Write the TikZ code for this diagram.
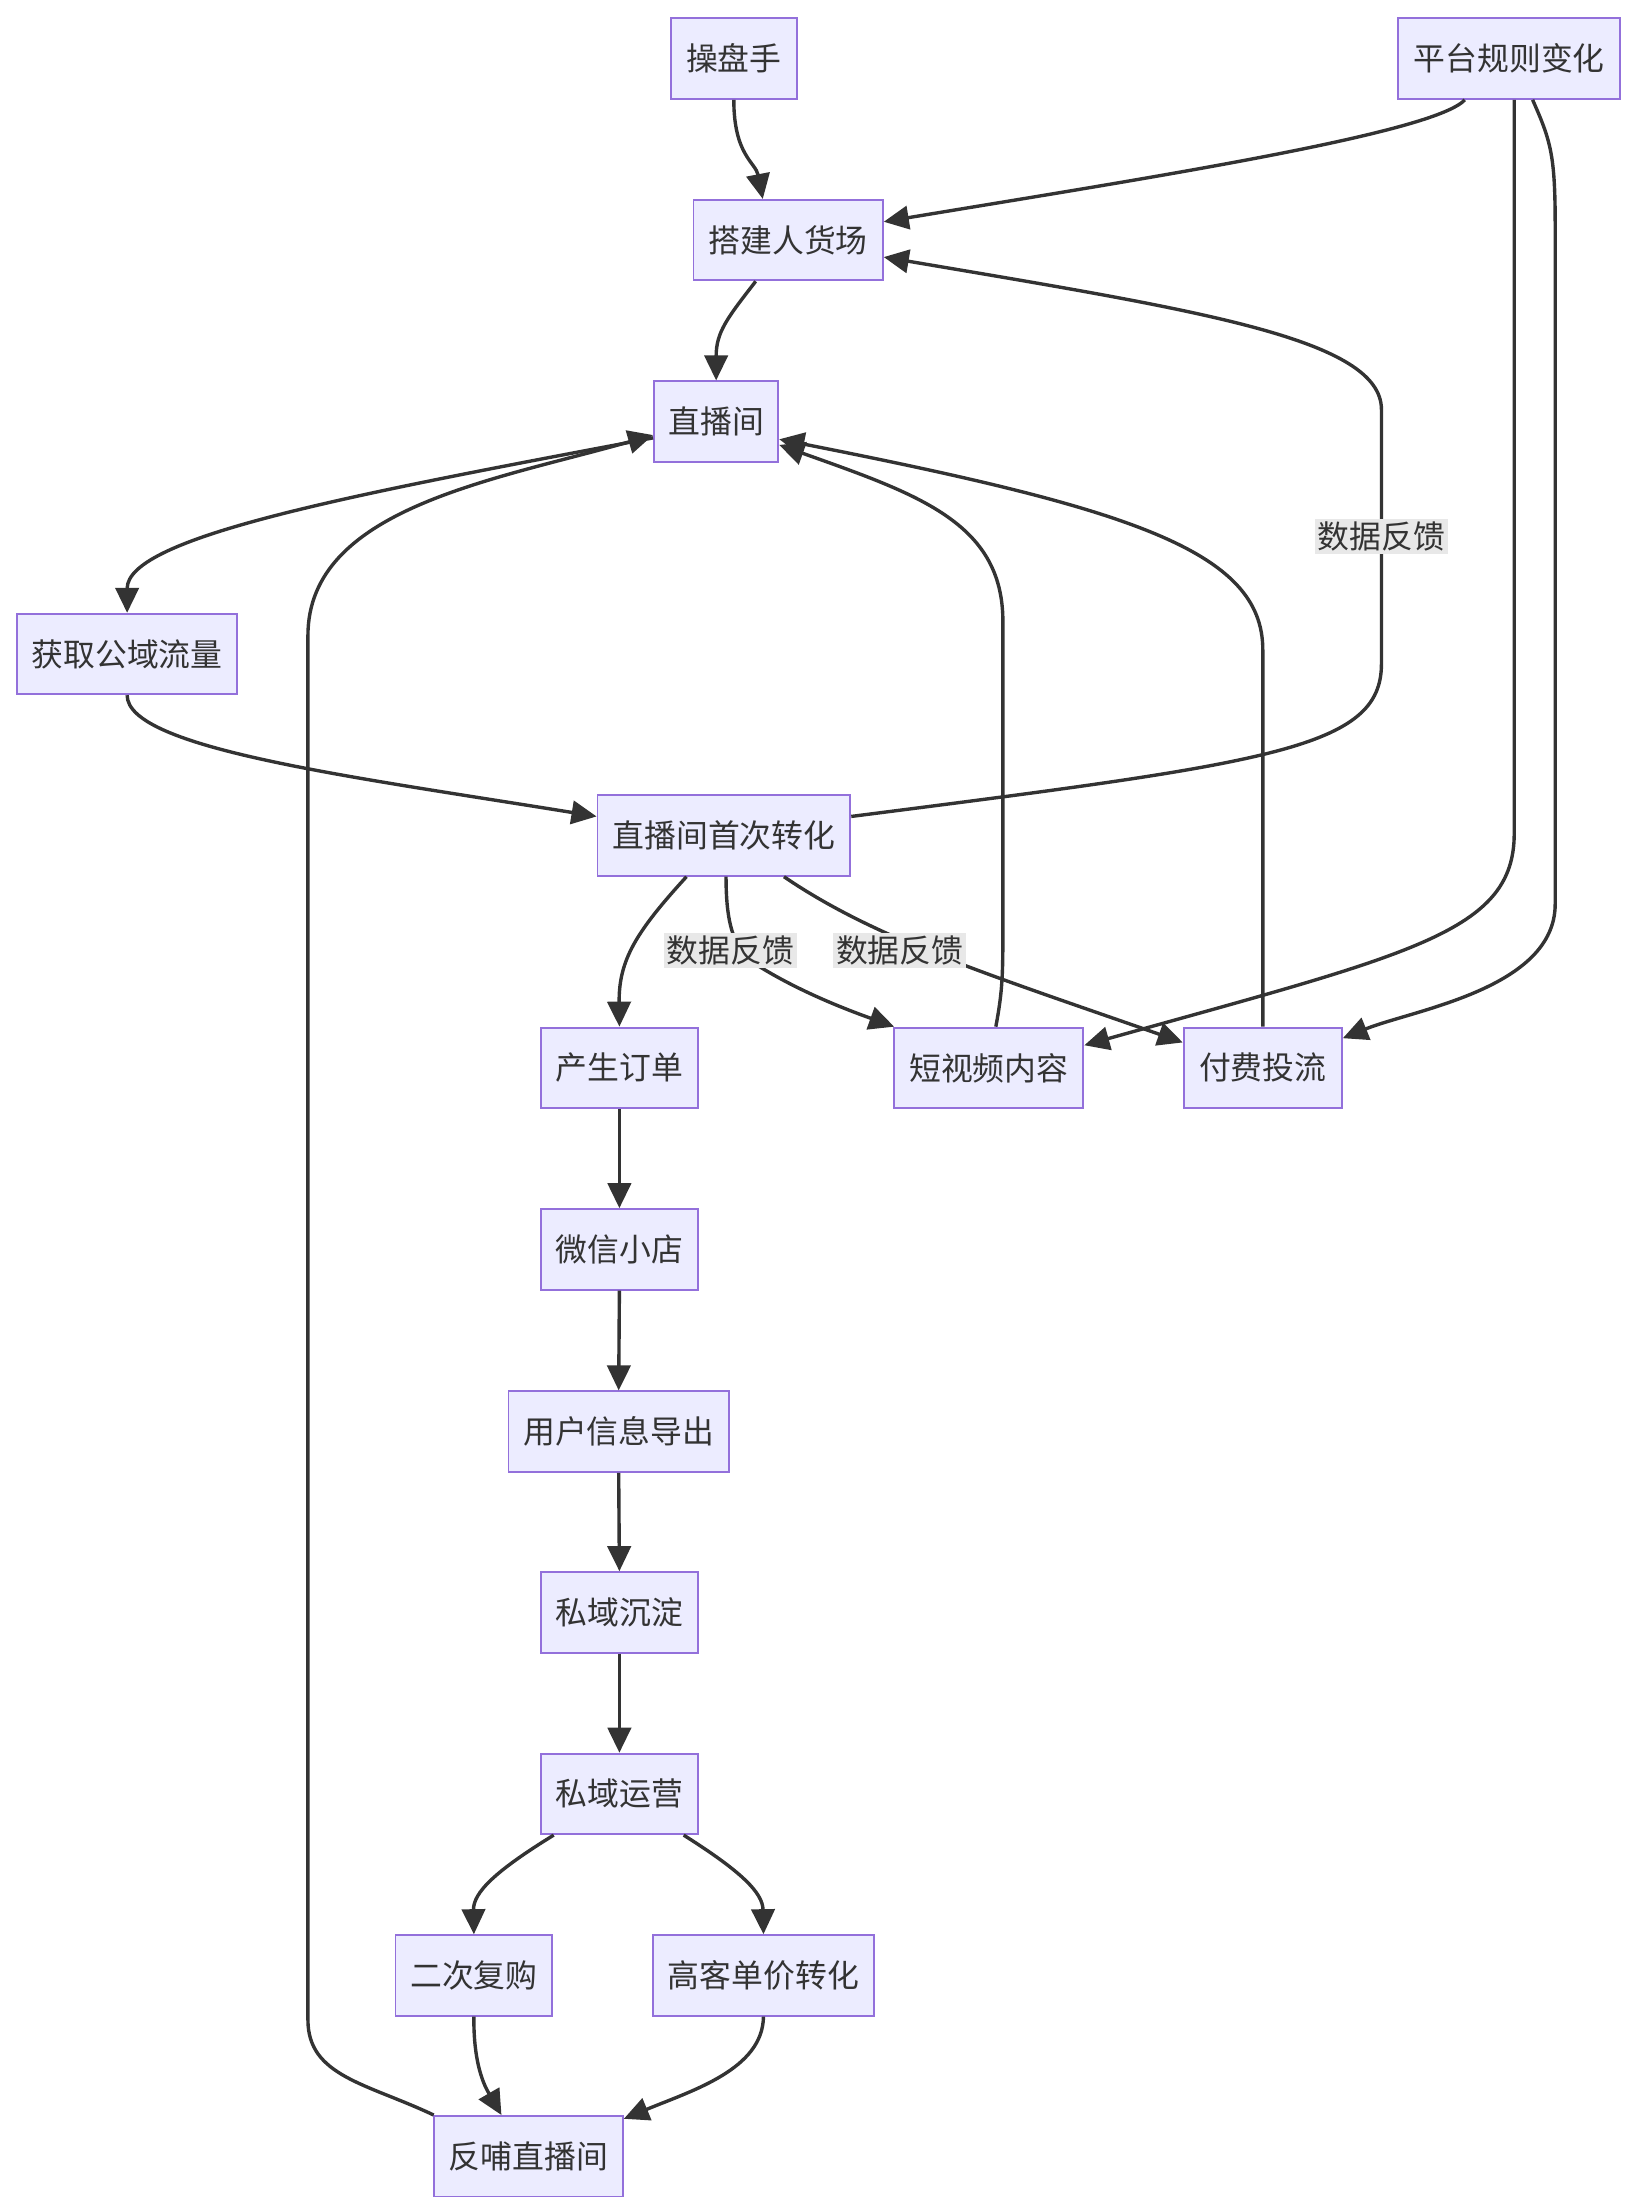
\documentclass[tikz,border=0pt]{standalone}
\usepackage{fontspec}
\setmainfont{Noto Sans CJK SC}
\usetikzlibrary{arrows.meta,calc}
\definecolor{boxfill}{HTML}{ECECFF}
\definecolor{boxline}{HTML}{9370DB}
\definecolor{edge}{HTML}{333333}
\definecolor{lblbg}{HTML}{E8E8E8}
\tikzset{
  box/.style={draw=boxline,fill=boxfill,line width=1pt,minimum height=42.75pt,inner sep=0pt,text=edge,font=\fontsize{16.9}{20}\selectfont},
  flow/.style={draw=edge,line width=1.8pt,-{Triangle[length=13.3pt,width=12.4pt]}},
  lbl/.style={fill=lblbg,inner sep=1.5pt,text=edge,font=\fontsize{16.9}{20}\selectfont}
}
\begin{document}
\begin{tikzpicture}[x=0.75pt,y=-0.75pt]
\useasboundingbox (0,0) rectangle (1158.2,1566);
% nodes
\node[box,minimum width=66.75pt] (czs) at (519.5,41.5) {操盘手};
\node[box,minimum width=117.75pt] (pt) at (1068.5,41.5) {平台规则变化};
\node[box,minimum width=100.5pt] (dj) at (558,170) {搭建人货场};
\node[box,minimum width=66pt] (zb) at (507,298.5) {直播间};
\node[box,minimum width=117pt] (hq) at (90,463) {获取公域流量};
\node[box,minimum width=134.25pt] (sc) at (512.5,591.5) {直播间首次转化};
\node[box,minimum width=83.25pt] (dd) at (438.5,756) {产生订单};
\node[box,minimum width=100.5pt] (dsp) at (700,756) {短视频内容};
\node[box,minimum width=84pt] (ff) at (894,756) {付费投流};
\node[box,minimum width=83.25pt] (wx) at (438.5,884.5) {微信小店};
\node[box,minimum width=117pt] (yh) at (438,1013.5) {用户信息导出};
\node[box,minimum width=83.25pt] (cd) at (438.5,1141.5) {私域沉淀};
\node[box,minimum width=83.25pt] (yy) at (438.5,1270) {私域运营};
\node[box,minimum width=83.25pt] (eg) at (335.5,1398.5) {二次复购};
\node[box,minimum width=117.75pt] (gk) at (540.5,1398.5) {高客单价转化};
\node[box,minimum width=100.5pt] (fb) at (374,1526.5) {反哺直播间};
% edges
\draw[flow] (czs.south) .. controls (519.5,110) and (535,115) .. ($(dj.north)+(-18,0)$);
\draw[flow] ($(pt.south)+(-31.5,0)$) .. controls (1015,95) and (800,128) .. ($(dj.east)+(0,-13)$);
\draw[flow] ($(pt.south)+(3.5,0)$) -- (1072,590) .. controls (1072,660) and (1000,675) .. ($(dsp.east)+(0,-16)$);
\draw[flow] ($(pt.south)+(16.5,0)$) .. controls (1098,100) and (1101,110) .. (1101,160) -- (1101,640) .. controls (1101,700) and (1000,715) .. ($(ff.east)+(0,-21)$);
\draw[flow] ($(dj.south)+(-23,0)$) .. controls (515,225) and (507,235) .. (zb.north);
\draw[flow] ($(zb.west)+(0,11.5)$) .. controls (250,350) and (90,380) .. (hq.north);
\draw[flow] (hq.south) .. controls (90,530) and (250,550) .. ($(sc.west)+(0,-13.5)$);
\draw[flow] ($(sc.east)+(0,-13.5)$) .. controls (900,540) and (978,530) .. (978,470) -- (978,290) .. controls (978,240) and (850,220) .. ($(dj.east)+(0,12)$);
\draw[flow] ($(sc.south)+(-26.5,0)$) .. controls (450,660) and (438,680) .. (dd.north);
\draw[flow] ($(sc.south)+(1.5,0)$) .. controls (514,650) and (518,665) .. (528,678) .. controls (560,700) and (600,715) .. ($(dsp.north)+(-67,0)$);
\draw[flow] ($(sc.south)+(42.5,0)$) .. controls (620,665) and (700,690) .. ($(ff.west)+(0,-18)$);
\draw[flow] ($(dsp.north)+(5,0)$) .. controls (710,700) and (710,690) .. (710,650) -- (710,440) .. controls (710,370) and (650,350) .. ($(zb.east)+(0,16.5)$);
\draw[flow] (ff.north) -- (894,460) .. controls (894,390) and (800,360) .. ($(zb.east)+(0,12.5)$);
\draw[flow] (dd.south) -- (wx.north);
\draw[flow] (wx.south) -- (yh.north);
\draw[flow] (yh.south) -- (cd.north);
\draw[flow] (cd.south) -- (yy.north);
\draw[flow] ($(yy.south)+(-46.5,0)$) .. controls (350,1325) and (335,1340) .. (eg.north);
\draw[flow] ($(yy.south)+(45.5,0)$) .. controls (525,1325) and (540,1340) .. (gk.north);
\draw[flow] (eg.south) .. controls (335,1465) and (345,1480) .. ($(fb.north)+(-19,0)$);
\draw[flow] (gk.south) .. controls (540,1465) and (490,1480) .. ($(fb.east)+(0,-26.5)$);
\draw[flow] ($(fb.north)+(-67,0)$) .. controls (260,1475) and (218,1470) .. (218,1430) -- (218,450) .. controls (218,360) and (350,340) .. ($(zb.west)+(0,9.5)$);
% labels
\node[lbl] (l1) at (978,380) {数据反馈};
\node[lbl] (l2) at (517,673) {数据反馈};
\node[lbl] (l3) at (637,673) {数据反馈};
\end{tikzpicture}
\end{document}
